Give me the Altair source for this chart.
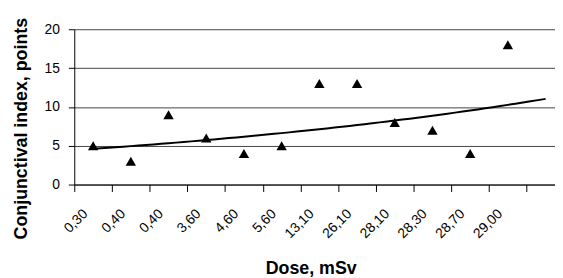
import json
import altair as alt
import numpy as np
import pandas as pd

doses = ["0,30", "0,40", "0,40", "3,60", "4,60", "5,60", "13,10", "26,10", "28,10", "28,30", "28,70", "29,00"]
idx = list(range(1, 13))
index_values = [5, 3, 9, 6, 4, 5, 13, 13, 8, 7, 4, 18]

df = pd.DataFrame({"idx": idx, "dose": doses, "value": index_values})

# Exponential trend line (least squares on log values), extended one period forward
b, ln_a = np.polyfit(np.array(idx, dtype=float), np.log(np.array(index_values, dtype=float)), 1)
tx = np.linspace(1, 13, 61)
trend_df = pd.DataFrame({"idx": tx, "value": np.exp(ln_a) * np.exp(b * tx)})

label_expr = f"{json.dumps(doses)}[round(datum.value - 0.5)] || ''"

x_scale = alt.Scale(domain=[0.5, 13.25], nice=False, zero=False)
y_scale = alt.Scale(domain=[0, 20], nice=False)

x_axis = alt.Axis(
    values=[i + 0.5 for i in range(13)],
    labelExpr=label_expr,
    labelAngle=-45,
    labelAlign="right",
    labelBaseline="middle",
    labelOffset=11,
    labelPadding=20,
    labelFontSize=14,
    labelColor="black",
    labelOverlap=False,
    labelFlush=False,
    tickSize=7,
    tickColor="black",
    domainColor="black",
    grid=False,
    title="Dose, mSv",
    titleFontSize=18,
    titleFontWeight="bold",
    titleColor="black",
    titleBaseline="alphabetic",
    titleX=239,
    titleY=90,
)

y_axis = alt.Axis(
    values=[0, 5, 10, 15, 20],
    tickSize=6,
    tickColor="black",
    domainColor="black",
    labelFontSize=14,
    labelColor="black",
    labelPadding=9,
    labelOverlap=False,
    grid=True,
    gridColor="#444444",
    gridOpacity=1,
    title="Conjunctival index, points",
    titleFontSize=18,
    titleFontWeight="bold",
    titleColor="black",
    titleX=-44,
    titleY=100,
)

x_enc = alt.X("idx:Q", scale=x_scale, axis=x_axis)
y_enc = alt.Y("value:Q", scale=y_scale, axis=y_axis)

points = alt.Chart(df).mark_point(
    shape="triangle-up", filled=True, color="black", size=110, opacity=1
).encode(x=x_enc, y=y_enc)

trend = alt.Chart(trend_df).mark_line(color="black", strokeWidth=2).encode(
    x=x_enc, y=y_enc
)

chart = alt.layer(trend, points).properties(
    width=486,
    height=157,
    autosize=alt.AutoSizeParams(type="none"),
    padding={"left": 67, "top": 20, "right": 0, "bottom": 93},
).configure(
    font="Liberation Sans",
).configure_view(
    stroke=None,
)

chart.save("out.html", embed_options={"renderer": "svg", "actions": False})
